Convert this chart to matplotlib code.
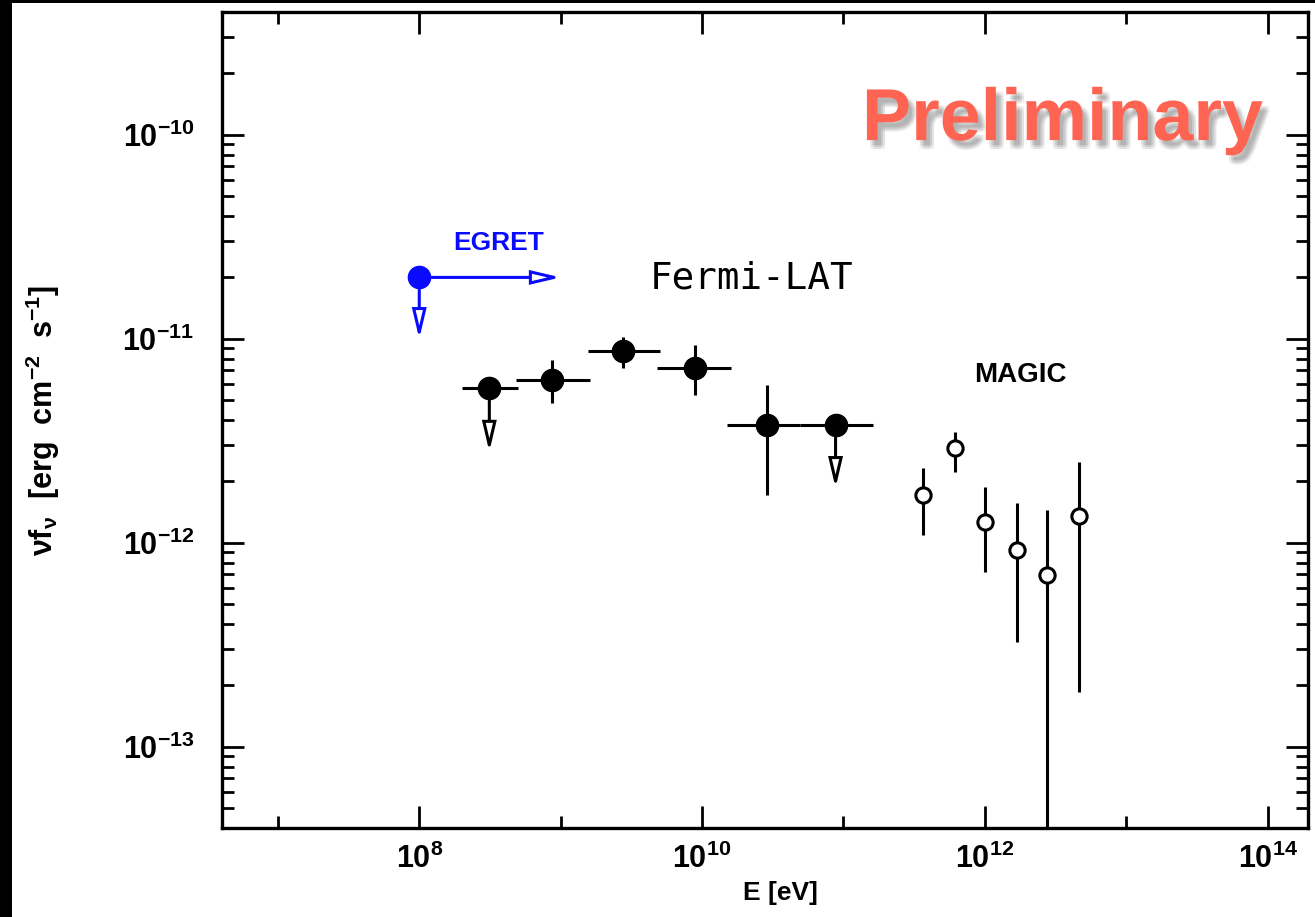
import numpy as np
import matplotlib
matplotlib.use("Agg")
import matplotlib.pyplot as plt
import matplotlib.patheffects as pe
from matplotlib.patches import Rectangle
from matplotlib.ticker import NullFormatter, LogLocator

plt.rcParams['font.family'] = ['Liberation Sans', 'DejaVu Sans']
plt.rcParams['font.weight'] = 'bold'
plt.rcParams['mathtext.default'] = 'regular'

# Fermi-LAT bins (eV) and nuFnu (erg cm^-2 s^-1)
fermi_E = [3.13e8, 8.73e8, 2.78e9, 8.97e9, 2.86e10, 8.79e10]
fermi_Elo = [2.0e8, 4.85e8, 1.55e9, 4.83e9, 1.51e10, 4.89e10]
fermi_Ehi = [5.0e8, 1.6e9, 5.0e9, 1.61e10, 4.89e10, 1.61e11]
fermi_F = [5.75e-12, 6.3e-12, 8.7e-12, 7.2e-12, 3.8e-12, 3.8e-12]
fermi_Flo = [2.8e-12, 4.85e-12, 7.2e-12, 5.3e-12, 1.72e-12, 1.86e-12]
fermi_Fhi = [5.75e-12, 7.9e-12, 1.02e-11, 9.35e-12, 5.96e-12, 3.8e-12]
fermi_ul = [True, False, False, False, False, True]

# MAGIC points
magic_E = [3.63e11, 6.11e11, 1.01e12, 1.68e12, 2.74e12, 4.61e12]
magic_F = [1.72e-12, 2.92e-12, 1.27e-12, 9.25e-13, 6.97e-13, 1.36e-12]
magic_Fhi = [2.33e-12, 3.5e-12, 1.88e-12, 1.57e-12, 1.45e-12, 2.49e-12]
magic_Flo = [1.09e-12, 2.23e-12, 7.2e-13, 3.27e-13, 1e-14, 1.86e-13]

# EGRET limit
egret_E, egret_F = 1e8, 2e-11
egret_Eend, egret_Fend = 1e9, 1e-11

xmajor = [1e8, 1e10, 1e12, 1e14]
xmajor_labels = ['$10^{8}$', '$10^{10}$', '$10^{12}$', '$10^{14}$']
xminor = [1e7, 1e9, 1e11, 1e13]
ymajor = [1e-13, 1e-12, 1e-11, 1e-10]
ymajor_labels = ['$10^{-13}$', '$10^{-12}$', '$10^{-11}$', '$10^{-10}$']

fig = plt.figure(figsize=(13.15, 9.17), dpi=100, facecolor='black')
fig.patches.append(Rectangle((12 / 1315, 0), 1 - 12 / 1315, 914 / 917,
                             transform=fig.transFigure, facecolor='white',
                             edgecolor='none', zorder=-10))
ax = fig.add_axes([222 / 1315, 89 / 917, 1086 / 1315, 816 / 917])
ax.patch.set_alpha(0)
ax.set_xscale('log')
ax.set_yscale('log')
ax.set_xlim(10 ** 6.605, 10 ** 14.285)
ax.set_ylim(4e-14, 4e-10)

lw = 2.2
# fermi points
E = np.array(fermi_E)
F = np.array(fermi_F)
xerr = [E - np.array(fermi_Elo), np.array(fermi_Ehi) - E]
ul = np.array(fermi_ul)
yerr = [np.where(ul, 0, F - np.array(fermi_Flo)), np.where(ul, 0, np.array(fermi_Fhi) - F)]
ax.errorbar(E, F, xerr=xerr, yerr=yerr, fmt='o', color='black', ms=16,
            elinewidth=lw, capsize=0, zorder=3)
arrow_kw = dict(arrowstyle='-|>,head_length=0.85,head_width=0.2', mutation_scale=20,
                lw=lw, shrinkA=0, shrinkB=0, joinstyle='miter')
for e, f, lo, u in zip(fermi_E, fermi_F, fermi_Flo, fermi_ul):
    if u:
        ax.annotate('', xy=(e, lo), xytext=(e, f),
                    arrowprops=dict(fc='white', ec='black', **arrow_kw), zorder=2)

# magic points
mE = np.array(magic_E)
mF = np.array(magic_F)
ax.errorbar(mE, mF, yerr=[mF - np.array(magic_Flo), np.array(magic_Fhi) - mF],
            fmt='o', color='black', mfc='white', mec='black', mew=2.2, ms=11,
            elinewidth=lw, capsize=0, zorder=3)

# egret
blue = '#0a0aff'
ax.annotate('', xy=(egret_Eend, egret_F), xytext=(egret_E, egret_F),
            arrowprops=dict(fc='white', ec=blue, **arrow_kw), zorder=2)
ax.annotate('', xy=(egret_E, egret_Fend), xytext=(egret_E, egret_F),
            arrowprops=dict(fc='white', ec=blue, **arrow_kw), zorder=2)
ax.plot([egret_E], [egret_F], 'o', color=blue, ms=16, zorder=3)

# axes styling
for s in ax.spines.values():
    s.set_linewidth(2.4)
ax.set_xticks(xmajor)
ax.set_xticklabels(xmajor_labels)
ax.set_xticks(xminor, minor=True)
ax.set_yticks(ymajor)
ax.set_yticklabels(ymajor_labels)
ax.yaxis.set_minor_locator(LogLocator(base=10, subs=np.arange(2, 10)))
ax.yaxis.set_minor_formatter(NullFormatter())
ax.xaxis.set_minor_formatter(NullFormatter())
ax.tick_params(which='both', direction='in', top=True, right=True, width=2)
ax.tick_params(which='major', length=16)
ax.tick_params(which='minor', length=8.5)
ax.tick_params(axis='x', which='major', pad=11, labelsize=22)
ax.tick_params(axis='y', which='major', pad=20, labelsize=22)

ax.text(0.514, -0.0797, 'E [eV]', transform=ax.transAxes, ha='center', va='center',
        fontsize=19)
ax.text(-0.165, 0.499, r'$\nu f_{\nu}$  [erg  cm$^{-2}$  s$^{-1}$]', transform=ax.transAxes,
        ha='center', va='center', rotation=90, fontsize=22)

ax.text(0.255, 0.7175, 'EGRET', transform=ax.transAxes, ha='center', va='center',
        fontsize=19, color=blue)
ax.text(0.488, 0.673, 'Fermi-LAT', transform=ax.transAxes, ha='center', va='center',
        fontsize=27, family='DejaVu Sans Mono', fontweight='normal')
ax.text(0.7348, 0.5551, 'MAGIC', transform=ax.transAxes, ha='center', va='center',
        fontsize=20)

# red label with a soft drop shadow
soft_shadow = [pe.SimplePatchShadow(offset=(4 + dx, -5 + dy), shadow_rgbFace='0.15',
                                    alpha=0.045)
               for dx in (-1.5, 0, 1.5) for dy in (-1.5, 0, 1.5)]
ax.text(0.774, 0.843, 'Preliminary', transform=ax.transAxes, ha='center', va='baseline',
        fontsize=53, color='#ff6352', path_effects=soft_shadow + [pe.Normal()])

fig.savefig('out.png', dpi=100, facecolor=fig.get_facecolor())
